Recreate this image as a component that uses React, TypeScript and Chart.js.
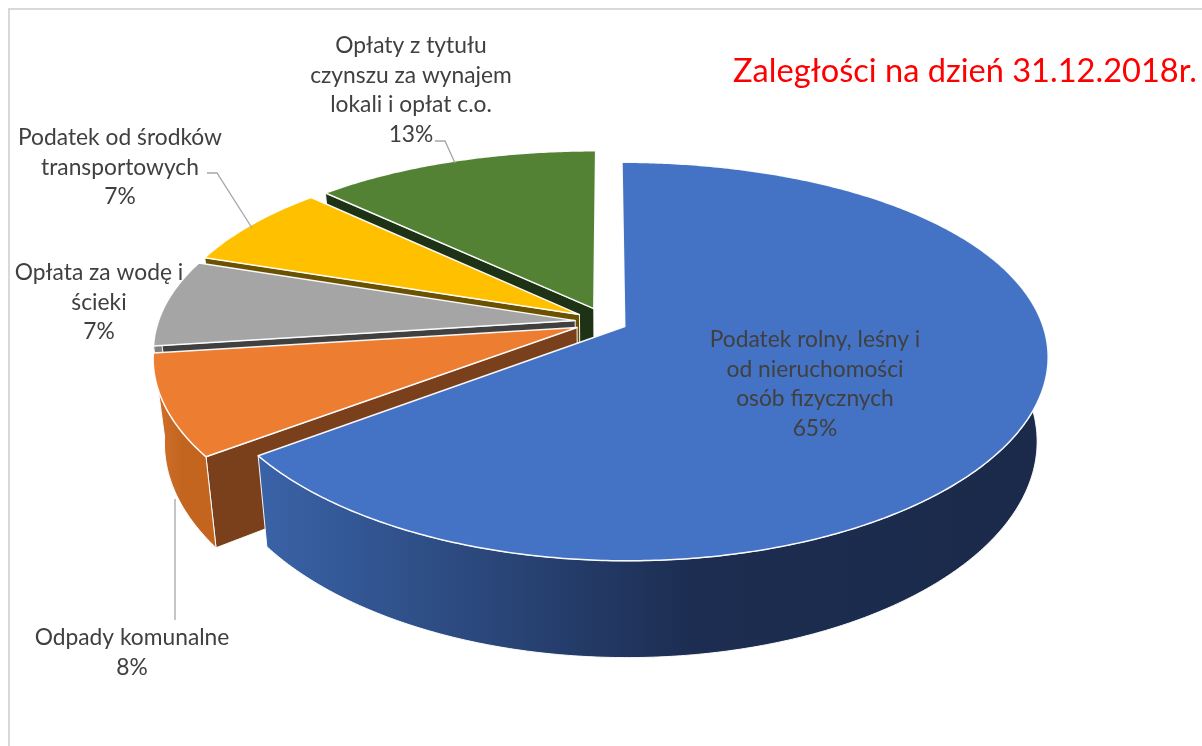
import { useEffect, useRef } from "react";
import { Chart, registerables } from "chart.js";

Chart.register(...registerables);

// ---------- data ----------
const categories = [
  "Podatek rolny, leśny i od nieruchomości osób fizycznych",
  "Odpady komunalne",
  "Opłata za wodę i ścieki",
  "Podatek od środków transportowych",
  "Opłaty z tytułu czynszu za wynajem lokali i opłat c.o.",
];
const shares = [65, 8, 7, 7, 13];
const labelNameLines = [
  ["Podatek rolny, leśny i", "od nieruchomości", "osób fizycznych"],
  ["Odpady komunalne"],
  ["Opłata za wodę i", "ścieki"],
  ["Podatek od środków", "transportowych"],
  ["Opłaty z tytułu", "czynszu za wynajem", "lokali i opłat c.o."],
];
const titleText = "Zaległości na dzień 31.12.2018r.";

// ---------- styles / layout ----------
const topColors = ["#4472C4", "#ED7D31", "#A5A5A5", "#FFC000", "#548235"];
const outerWallColors = [
  ["#3A63A8", "#1C2D51", "#1B2A4A"],
  ["#D0702D", "#C4651F", "#C4651F"],
  ["#8C8C8C", "#7F7F7F", "#7F7F7F"],
  ["#C79600", "#B88A00", "#B88A00"],
  ["#466E2C", "#3B5E26", "#3B5E26"],
];
const cutWallColors = ["#1E325A", "#7A401B", "#404040", "#6B5200", "#1E3316"];
const explodePx = [21, 31, 31, 31, 31];
const labelAnchors = [
  [815, 347],
  [132, 645],
  [99, 280],
  [120, 145],
  [411, 53],
];
const leaderLines = [
  null,
  [[175, 499], [175, 620]],
  null,
  [[207, 173], [217, 173], [252, 228]],
  [[435, 141], [445, 141], [455, 163]],
];
const FONT = "Lato, 'Open Sans', sans-serif";
const LINE_H = 29.5;
const PIE_RADIUS = 417;
const TILT = 0.474;
const PERSP_X = 0.15;
const PERSP_Y = 0.177;
const DEPTH = 0.1966;
const SHRINK = 0.025;

function fitSize(ctx: CanvasRenderingContext2D, text: string, target: number) {
  ctx.font = `100px ${FONT}`;
  return (100 * target) / ctx.measureText(text).width;
}

const pie3d = {
  id: "pie3d",
  beforeDatasetsDraw(chart: any) {
    const ctx: CanvasRenderingContext2D = chart.ctx;
    const arcs = chart.getDatasetMeta(0).data as any[];
    if (!arcs.length) return false;
    const cx = arcs[0].x;
    const cy = arcs[0].y;
    const R = arcs[0].outerRadius;
    const Ry = R * TILT;
    const D = R * DEPTH;
    const proj = (u: number, v: number, z: number): [number, number] => {
      const px = 1 + PERSP_X * v;
      const py = 1 + PERSP_Y * v;
      let x = cx + u * R * px;
      const y = cy + v * Ry * py + z * D * py;
      x = cx + (x - cx) * (1 - SHRINK * z);
      return [x, y];
    };
    const slices = arcs
      .map((a, i) => {
        const s = a.startAngle;
        const e = a.endAngle;
        const m = (s + e) / 2;
        const off = (a.options.offset || 0) / R;
        return { i, s, e, ou: Math.cos(m) * off, ov: Math.sin(m) * off, depth: Math.sin(m) };
      })
      .sort((a, b) => a.depth - b.depth);

    const rim = (sl: any, a0: number, a1: number, z: number) => {
      const n = Math.max(2, Math.ceil((a1 - a0) / 0.01));
      const pts: [number, number][] = [];
      for (let k = 0; k <= n; k++) {
        const a = a0 + ((a1 - a0) * k) / n;
        pts.push(proj(sl.ou + Math.cos(a), sl.ov + Math.sin(a), z));
      }
      return pts;
    };
    const poly = (pts: [number, number][], fill: any, lw = 1) => {
      ctx.beginPath();
      pts.forEach(([x, y], k) => (k ? ctx.lineTo(x, y) : ctx.moveTo(x, y)));
      ctx.closePath();
      ctx.fillStyle = fill;
      ctx.fill();
      ctx.strokeStyle = "rgba(255,255,255,0.95)";
      ctx.lineWidth = lw;
      ctx.lineJoin = "round";
      ctx.stroke();
    };

    ctx.save();
    // side walls, back to front
    for (const sl of slices) {
      const apexT = proj(sl.ou, sl.ov, 0);
      const apexB = proj(sl.ou, sl.ov, 1);
      if (Math.cos(sl.s) < -1e-3) {
        const t = proj(sl.ou + Math.cos(sl.s), sl.ov + Math.sin(sl.s), 0);
        const b = proj(sl.ou + Math.cos(sl.s), sl.ov + Math.sin(sl.s), 1);
        poly([apexT, t, b, apexB], cutWallColors[sl.i], 1);
      }
      if (Math.cos(sl.e) > 1e-3) {
        const t = proj(sl.ou + Math.cos(sl.e), sl.ov + Math.sin(sl.e), 0);
        const b = proj(sl.ou + Math.cos(sl.e), sl.ov + Math.sin(sl.e), 1);
        poly([apexT, t, b, apexB], cutWallColors[sl.i], 1);
      }
      const a0 = Math.max(sl.s, 0);
      const a1 = Math.min(sl.e, Math.PI);
      if (a1 > a0) {
        const top = rim(sl, a0, a1, 0);
        const bot = rim(sl, a0, a1, 1).reverse();
        const xs = top.map((p) => p[0]);
        const minX = Math.min(...xs);
        const maxX = Math.max(...xs);
        const g = ctx.createLinearGradient(maxX, 0, minX, 0);
        const c = outerWallColors[sl.i];
        g.addColorStop(0, c[2]);
        g.addColorStop(0.45, c[1]);
        g.addColorStop(1, c[0]);
        poly(top.concat(bot), g, 1);
      }
    }
    // top faces
    for (const sl of slices) {
      const apexT = proj(sl.ou, sl.ov, 0);
      poly([apexT, ...rim(sl, sl.s, sl.e, 0)], topColors[sl.i], 1.5);
    }
    ctx.restore();
    return false;
  },
  afterDraw(chart: any) {
    const ctx: CanvasRenderingContext2D = chart.ctx;
    ctx.save();
    // frame
    ctx.strokeStyle = "#D9D9D9";
    ctx.lineWidth = 2;
    ctx.beginPath();
    ctx.moveTo(9, 746);
    ctx.lineTo(9, 9);
    ctx.lineTo(1202, 9);
    ctx.stroke();

    // leader lines
    ctx.strokeStyle = "#A6A6A6";
    ctx.lineWidth = 1.3;
    leaderLines.forEach((ln) => {
      if (!ln) return;
      ctx.beginPath();
      ln.forEach(([x, y], k) => (k ? ctx.lineTo(x, y) : ctx.moveTo(x, y)));
      ctx.stroke();
    });

    // data labels
    const size = fitSize(ctx, "Podatek od środków", 204);
    ctx.font = `${size}px ${FONT}`;
    ctx.fillStyle = "#404040";
    ctx.textAlign = "center";
    ctx.textBaseline = "alphabetic";
    labelNameLines.forEach((lines, i) => {
      const all = [...lines, `${shares[i]}%`];
      const [x, y] = labelAnchors[i];
      all.forEach((t, k) => ctx.fillText(t, x, y + k * LINE_H));
    });

    // title
    const ts = fitSize(ctx, titleText, 464);
    ctx.font = `${ts}px ${FONT}`;
    ctx.fillStyle = "#FF0000";
    ctx.textAlign = "right";
    ctx.fillText(titleText, 1197, 82);
    ctx.restore();
  },
};

export default function App() {
  const ref = useRef<HTMLCanvasElement>(null);
  useEffect(() => {
    const chart = new Chart(ref.current as HTMLCanvasElement, {
      type: "pie",
      data: {
        labels: categories,
        datasets: [
          {
            data: shares,
            backgroundColor: topColors,
            offset: explodePx,
            borderWidth: 0,
            radius: PIE_RADIUS,
          } as any,
        ],
      },
      options: {
        responsive: false,
        animation: false,
        radius: PIE_RADIUS,
        layout: { padding: { left: 110, right: 100, top: 0, bottom: 102 } },
        plugins: { legend: { display: false }, tooltip: { enabled: false } },
        events: [],
      } as any,
      plugins: [pie3d],
    });
    return () => chart.destroy();
  }, []);
  return (
    <div style={{ position: "fixed", left: 0, top: 0, width: 1202, height: 746, background: "#fff" }}>
      <canvas ref={ref} width={1202} height={746} style={{ display: "block" }} />
    </div>
  );
}
